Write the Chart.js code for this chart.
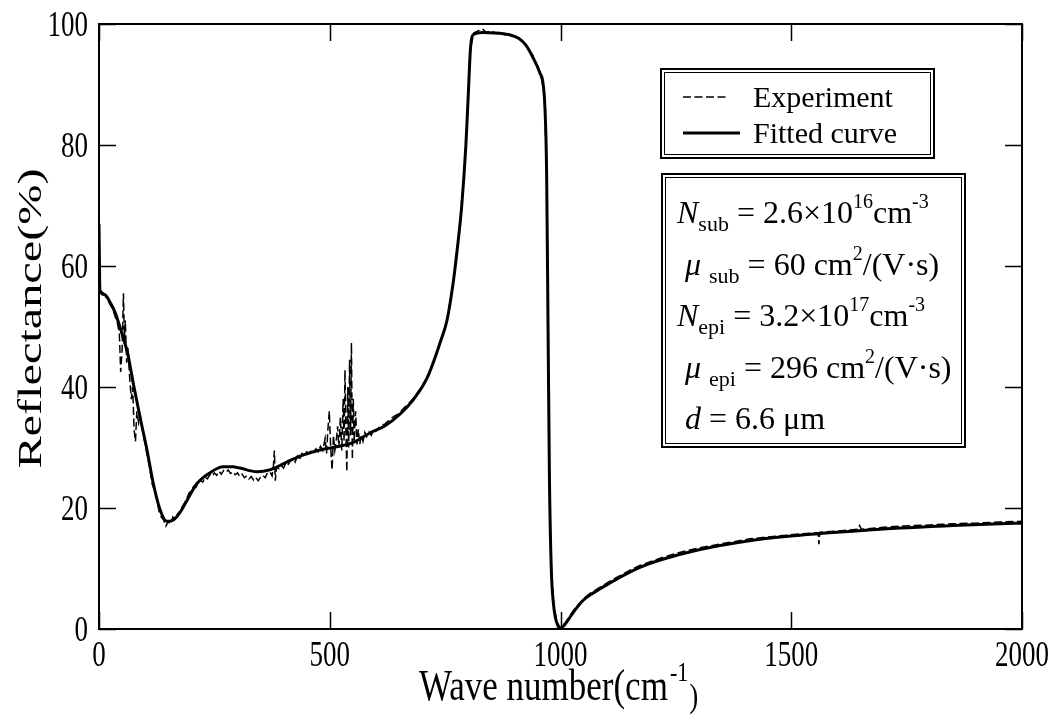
<!DOCTYPE html>
<html>
<head>
<meta charset="utf-8">
<script src="https://cdn.jsdelivr.net/npm/chart.js@4"></script>
<style>
  html, body { margin: 0; padding: 0; background: #fff; }
  canvas { display: block; }
</style>
</head>
<body>
<canvas id="reflectance-chart" width="1052" height="716"></canvas>
<script>
// Measured reflectance spectrum (wave number, %)
const expX = [0, 2, 10, 20, 30, 40, 44, 47, 50, 53, 55, 57, 60, 63, 66, 70, 73, 76, 79, 82, 86, 90, 95, 100,
  105, 110, 115, 120, 125, 130, 135, 140, 145, 150, 155, 160, 165, 170, 175, 180, 185, 190, 195, 200,
  205, 210, 215, 220, 225, 230, 235, 240, 245, 250, 255, 260, 265, 270, 275, 280, 285, 290, 295, 300,
  305, 310, 315, 320, 325, 330, 335, 340, 345, 350, 355, 360, 365, 370, 375, 378, 380, 382, 385, 390,
  395, 400, 405, 410, 415, 420, 425, 430, 435, 440, 445, 450, 455, 460, 465, 470, 475, 480, 485, 490,
  493, 496, 499, 502, 505, 508, 511, 514, 517, 520, 523, 526, 529, 531, 533, 535, 537, 539, 541, 543,
  545, 547, 549, 551, 553, 556, 559, 562, 565, 568, 572, 576, 580, 585, 590, 595, 600, 610, 620, 630,
  640, 650, 660, 670, 680, 695, 711, 725, 739, 754, 767, 776, 786, 795, 800, 805, 812, 820, 830, 840,
  850, 860, 870, 880, 890, 900, 910, 925, 940, 955, 965, 970, 973, 976, 980, 985, 992, 1000, 1010, 1031,
  1050, 1064, 1107, 1150, 1172, 1216, 1260, 1300, 1350, 1410, 1460, 1519, 1550, 1558, 1560, 1562, 1600, 1645,
  1648, 1652, 1700, 1736, 1800, 1850, 1900, 1952, 2000];
const expY = [67, 56, 55.5, 54.2, 52.8, 50.5, 49, 42.5, 46, 55.5, 48, 51, 44, 46.5, 42, 38, 40, 33, 31, 36, 34, 35, 32.5, 30.5,
  28.5, 26.5, 24, 23, 21.5, 19.5, 18.5, 18, 17, 17.8, 17.3, 18.5, 18, 19, 19.5, 20.2, 20.8, 21.5, 22.5, 22.8,
  23.6, 23.4, 24.3, 24.6, 24.3, 25.1, 24.8, 25.5, 25.2, 25.8, 25.4, 26.1, 25.6, 26.2, 25.9, 26.3, 25.7, 26, 25.5, 25.8,
  25.2, 25.6, 25, 25.3, 24.8, 25.2, 24.6, 25, 24.5, 25.1, 25.4, 25, 25.8, 26, 25.3, 27, 29.5, 24.5, 26.8, 26.5,
  27, 26.6, 27.5, 27.2, 27.8, 28.2, 27.6, 28.6, 28.1, 29, 28.7, 29.3, 29, 29.5, 29.2, 29.8, 29.3, 30.2, 29.5, 31.5,
  29, 33, 36, 30, 26.3, 32, 29.5, 31, 33.5, 30, 35, 29.5, 38, 31, 42.8, 33, 26, 40, 30, 44.5,
  32, 47.3, 28, 38, 31, 36, 30.5, 33, 30.5, 32, 31, 32.5, 31.8, 32.6, 32, 33, 32.7, 33.6, 33.9, 34.6,
  35.2, 35.6, 36.5, 37.2, 38, 39.6, 41.6, 44, 47.4, 51, 57, 62.6, 70, 80, 88, 96, 98.5, 98.8, 99.2, 98.6,
  98.9, 98.4, 98.7, 98.2, 98.4, 97.9, 97.7, 96.6, 94.8, 92.2, 88.5, 75.5, 50, 25, 10.5, 4.3, 1.2, 0.2, 1, 3.4,
  5, 5.9, 7.9, 9.7, 10.5, 11.7, 12.7, 13.4, 14.1, 14.9, 15.3, 15.7, 15.9, 15.9, 14, 16, 16.2, 16.5,
  17.1, 16.5, 16.8, 17, 17.2, 17.4, 17.5, 17.7, 17.8];

// Fitted model curve
const fitX = [0, 2, 12, 24, 35, 45, 55, 62, 74, 89, 104, 117, 132, 147, 158, 169, 180, 191, 212, 240,
  269, 290, 305, 342, 370, 407, 440, 479, 520, 550, 587, 620, 652, 680, 711, 739, 754, 767, 776, 786,
  795, 800, 805, 812, 830, 860, 890, 910, 925, 940, 955, 965, 970, 973, 976, 980, 985, 992, 1000, 1010,
  1031, 1050, 1064, 1107, 1150, 1172, 1216, 1300, 1410, 1519, 1600, 1736, 1850, 1952, 2000];
const fitY = [67, 56, 55.3, 54, 52.3, 50, 47.5, 45.6, 40.7, 35, 29.6, 24.3, 19.8, 17.8, 17.9, 18.6, 19.8, 21.3, 24, 25.8,
  26.8, 26.8, 26.6, 26, 26.3, 27.6, 28.7, 29.6, 30.2, 30.8, 32.4, 33.6, 35.5, 37.8, 41.5, 47.3, 51, 57, 62.6, 70,
  80, 88, 96, 98.3, 98.6, 98.5, 98.2, 97.6, 96.5, 94.5, 92, 88, 75, 50, 25, 10, 4, 1, 0.1, 0.8,
  3.1, 4.8, 5.6, 7.6, 9.4, 10.2, 11.4, 13.1, 14.6, 15.5, 16, 16.7, 17.1, 17.4, 17.5];

const xTicks = { min: 0, max: 2000, step: 500 };
const yTicks = { min: 0, max: 100, step: 20 };

const seriesNames = ['Experiment', 'Fitted curve'];
const xTitle = ['Wave number(cm', '-1', ')'];
const yTitle = 'Reflectance(%)';

// Parameter lines: [text, style] pieces; style n = normal, i = italic, sub, sup
const paramLines = [
  [['N', 'i'], ['sub', 'sub'], [' = 2.6\u00d710', 'n'], ['16', 'sup'], ['cm', 'n'], ['-3', 'sup']],
  [[' ', 'n'], ['\u03bc', 'i'], [' ', 'n'], ['sub', 'sub'], [' = 60 cm', 'n'], ['2', 'sup'], ['/(V\u00b7s)', 'n']],
  [['N', 'i'], ['epi', 'sub'], [' = 3.2\u00d710', 'n'], ['17', 'sup'], ['cm', 'n'], ['-3', 'sup']],
  [[' ', 'n'], ['\u03bc', 'i'], [' ', 'n'], ['epi', 'sub'], [' = 296 cm', 'n'], ['2', 'sup'], ['/(V\u00b7s)', 'n']],
  [[' ', 'n'], ['d', 'i'], [' = 6.6 \u03bcm', 'n']]
];

const SERIF = "'Liberation Serif', 'Times New Roman', serif";

const toPoints = (xs, ys) => xs.map((x, i) => ({ x: x, y: ys[i] }));

// Text drawn taller than wide, like the axis lettering
function stretchedText(ctx, text, x, y, sx, sy, align, rot) {
  ctx.save();
  ctx.translate(x, y);
  if (rot) ctx.rotate(rot);
  ctx.scale(sx, sy);
  ctx.textAlign = align;
  ctx.textBaseline = 'alphabetic';
  ctx.fillText(text, 0, 0);
  ctx.restore();
}

function doubleBox(ctx, x, y, w, h) {
  ctx.fillStyle = '#fff';
  ctx.fillRect(x, y, w, h);
  ctx.strokeStyle = '#000';
  ctx.lineWidth = 2;
  ctx.strokeRect(x, y, w, h);
  ctx.lineWidth = 1;
  ctx.strokeRect(x + 3.5, y + 3.5, w - 7, h - 7);
}

const frameAxes = {
  id: 'frameAxes',
  afterDatasetsDraw(chart) {
    const { ctx, chartArea: a, scales: { x, y } } = chart;
    ctx.save();
    ctx.strokeStyle = '#000';
    ctx.fillStyle = '#000';

    // inward ticks on all four sides
    ctx.lineWidth = 1.5;
    ctx.beginPath();
    x.ticks.forEach(t => {
      const px = Math.round(x.getPixelForValue(t.value)) + 0.5;
      ctx.moveTo(px, a.bottom); ctx.lineTo(px, a.bottom - 17);
      ctx.moveTo(px, a.top); ctx.lineTo(px, a.top + 17);
    });
    y.ticks.forEach(t => {
      const py = Math.round(y.getPixelForValue(t.value)) + 0.5;
      ctx.moveTo(a.left, py); ctx.lineTo(a.left + 17, py);
      ctx.moveTo(a.right, py); ctx.lineTo(a.right - 17, py);
    });
    ctx.stroke();

    ctx.lineWidth = 2;
    ctx.strokeRect(a.left, a.top, a.width, a.height);

    // tick labels
    ctx.font = '27px ' + SERIF;
    x.ticks.forEach(t => {
      stretchedText(ctx, String(t.value), x.getPixelForValue(t.value), a.bottom + 37, 1, 1.35, 'center');
    });
    y.ticks.forEach(t => {
      stretchedText(ctx, String(t.value), a.left - 11, y.getPixelForValue(t.value) + 12, 1, 1.35, 'right');
    });

    // x title with superscript
    ctx.font = '35px ' + SERIF;
    let tx = 419;
    stretchedText(ctx, xTitle[0], tx, a.bottom + 71, 1, 1.25, 'left');
    tx += ctx.measureText(xTitle[0]).width;
    ctx.font = '22px ' + SERIF;
    stretchedText(ctx, xTitle[1], tx + 2, a.bottom + 52, 1, 1.2, 'left');
    tx += ctx.measureText(xTitle[1]).width + 3;
    ctx.font = '27px ' + SERIF;
    stretchedText(ctx, xTitle[2], tx, a.bottom + 78, 1, 1.25, 'left');

    // y title, rotated
    ctx.font = '34px ' + SERIF;
    stretchedText(ctx, yTitle, 41, (a.top + a.bottom) / 2 - 8, 1.42, 1, 'center', -Math.PI / 2);

    // legend box
    const lx = a.right - 361, ly = a.top + 45;
    doubleBox(ctx, lx, ly, 273, 89);
    ctx.font = '30px ' + SERIF;
    ctx.fillStyle = '#000';
    chart.data.datasets.forEach((ds, i) => {
      const rowY = ly + 28 + i * 36;
      ctx.save();
      ctx.lineWidth = ds.borderWidth;
      ctx.setLineDash(ds.borderDash || []);
      ctx.beginPath();
      ctx.moveTo(lx + 22, rowY);
      ctx.lineTo(lx + (i === 0 ? 66 : 79), rowY);
      ctx.stroke();
      ctx.restore();
      ctx.textAlign = 'left';
      ctx.textBaseline = 'alphabetic';
      ctx.fillText(ds.label, lx + 92, rowY + 10);
    });

    // parameter box
    const bx = a.right - 360, by = a.top + 150;
    doubleBox(ctx, bx, by, 303, 273);
    ctx.fillStyle = '#000';
    ctx.textAlign = 'left';
    ctx.textBaseline = 'alphabetic';
    paramLines.forEach((parts, i) => {
      let cx = bx + 15;
      const base = by + 49 + i * 51.5;
      parts.forEach(([text, style]) => {
        let dy = 0;
        if (style === 'sub') { ctx.font = '22px ' + SERIF; dy = 8; }
        else if (style === 'sup') { ctx.font = '20px ' + SERIF; dy = -15; }
        else if (style === 'i') { ctx.font = 'italic 32px ' + SERIF; }
        else { ctx.font = '32px ' + SERIF; }
        ctx.fillText(text, cx, base + dy);
        cx += ctx.measureText(text).width;
      });
    });

    ctx.restore();
  }
};

const ctx = document.getElementById('reflectance-chart').getContext('2d');
const chart = new Chart(ctx, {
  type: 'line',
  data: {
    datasets: [{
      label: seriesNames[0],
      data: toPoints(expX, expY),
      borderColor: '#000',
      borderWidth: 1.5,
      borderDash: [8, 3.5],
      pointRadius: 0,
      tension: 0,
      fill: false,
      order: 2
    }, {
      label: seriesNames[1],
      data: toPoints(fitX, fitY),
      borderColor: '#000',
      borderWidth: 3,
      pointRadius: 0,
      cubicInterpolationMode: 'monotone',
      fill: false,
      order: 1
    }]
  },
  options: {
    responsive: false,
    animation: false,
    layout: { padding: { left: 0, right: 30, top: 24, bottom: 0 } },
    plugins: { legend: { display: false }, tooltip: { enabled: false } },
    scales: {
      x: {
        type: 'linear',
        min: xTicks.min,
        max: xTicks.max,
        ticks: { stepSize: xTicks.step, display: false },
        grid: { display: false },
        border: { display: false },
        afterFit: scale => { scale.height = 87; }
      },
      y: {
        min: yTicks.min,
        max: yTicks.max,
        ticks: { stepSize: yTicks.step, display: false },
        grid: { display: false },
        border: { display: false },
        afterFit: scale => { scale.width = 99; }
      }
    }
  },
  plugins: [frameAxes]
});
</script>
</body>
</html>
